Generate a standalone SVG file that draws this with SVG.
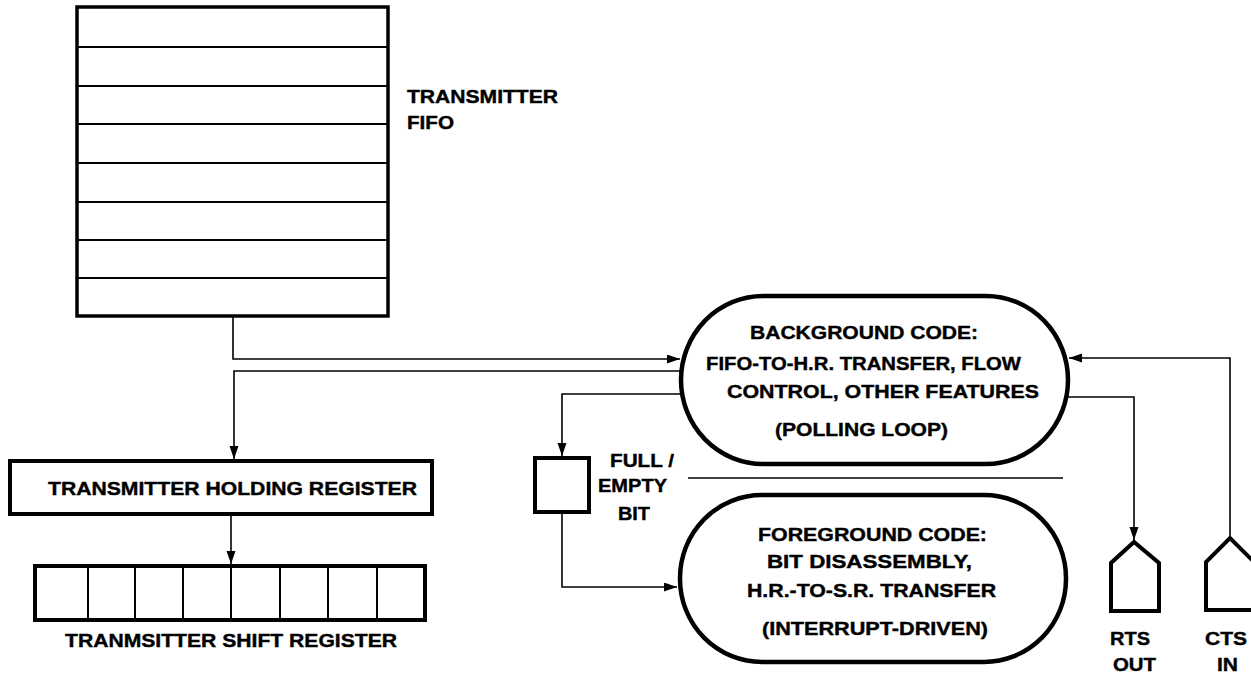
<svg xmlns="http://www.w3.org/2000/svg" width="1251" height="674" viewBox="0 0 1251 674">
<style>
text{font-family:"Liberation Sans",Arial,sans-serif;font-weight:bold;font-size:19px;fill:#000;stroke:#000;stroke-width:0.4}
.box{fill:#fff;stroke:#000;stroke-width:4}
.thin{fill:none;stroke:#000;stroke-width:2}
.conn{fill:none;stroke:#000;stroke-width:1.6}
</style>
<defs>
<marker id="arr" markerUnits="userSpaceOnUse" markerWidth="14" markerHeight="10" refX="13" refY="4.5" orient="auto">
<path d="M0,0 L13,4.5 L0,9 z" fill="#000"/>
</marker>
</defs>
<rect width="1251" height="674" fill="#fff"/>
<g id="fifo">
<rect x="77" y="7" width="311" height="309" fill="#fff" stroke="#000" stroke-width="3.5"/>
<path class="thin" d="M77 47H388M77 86H388M77 124H388M77 163H388M77 202H388M77 240H388M77 278H388"/>
<text x="407" y="103" textLength="151" lengthAdjust="spacingAndGlyphs">TRANSMITTER</text>
<text x="407" y="129" textLength="47" lengthAdjust="spacingAndGlyphs">FIFO</text>
</g>
<g id="holding">
<rect class="box" x="10" y="461" width="422" height="53"/>
<text x="48" y="495" textLength="369" lengthAdjust="spacingAndGlyphs">TRANSMITTER HOLDING REGISTER</text>
</g>
<g id="shift">
<rect class="box" x="35" y="566" width="390" height="54"/>
<path class="thin" d="M88 566V620M135 566V620M183 566V620M231 566V620M280 566V620M328 566V620M377 566V620"/>
<text x="65" y="647" textLength="332" lengthAdjust="spacingAndGlyphs">TRANMSITTER SHIFT REGISTER</text>
</g>
<g id="flag">
<rect class="box" x="535" y="458" width="54" height="54"/>
<text x="610" y="467" textLength="64" lengthAdjust="spacingAndGlyphs">FULL /</text>
<text x="598" y="492" textLength="69" lengthAdjust="spacingAndGlyphs">EMPTY</text>
<text x="618" y="520" textLength="32" lengthAdjust="spacingAndGlyphs">BIT</text>
</g>
<g id="background">
<rect x="681" y="296" width="387" height="168" rx="82" ry="84" fill="#fff" stroke="#000" stroke-width="4.5"/>
<text x="750" y="339" textLength="228" lengthAdjust="spacingAndGlyphs">BACKGROUND CODE:</text>
<text x="706" y="370" textLength="315" lengthAdjust="spacingAndGlyphs">FIFO-TO-H.R. TRANSFER, FLOW</text>
<text x="727" y="398" textLength="312" lengthAdjust="spacingAndGlyphs">CONTROL, OTHER FEATURES</text>
<text x="775" y="436" textLength="173" lengthAdjust="spacingAndGlyphs">(POLLING LOOP)</text>
</g>
<g id="separator">
<path class="conn" d="M688 478H1063"/>
</g>
<g id="foreground">
<rect x="680" y="495" width="386" height="167" rx="82" ry="83" fill="#fff" stroke="#000" stroke-width="4.5"/>
<text x="758" y="541" textLength="229" lengthAdjust="spacingAndGlyphs">FOREGROUND CODE:</text>
<text x="767" y="568" textLength="205" lengthAdjust="spacingAndGlyphs">BIT DISASSEMBLY,</text>
<text x="747" y="597" textLength="249" lengthAdjust="spacingAndGlyphs">H.R.-TO-S.R. TRANSFER</text>
<text x="762" y="635" textLength="226" lengthAdjust="spacingAndGlyphs">(INTERRUPT-DRIVEN)</text>
</g>
<g id="rts">
<path d="M1111 611V563L1134 542L1159 563V611Z" fill="#fff" stroke="#000" stroke-width="4"/>
<text x="1110" y="645" textLength="40" lengthAdjust="spacingAndGlyphs">RTS</text>
<text x="1113" y="671" textLength="43" lengthAdjust="spacingAndGlyphs">OUT</text>
</g>
<g id="cts">
<path d="M1206 610V562L1230 538L1254 562V610Z" fill="#fff" stroke="#000" stroke-width="4"/>
<text x="1205" y="645" textLength="42" lengthAdjust="spacingAndGlyphs">CTS</text>
<text x="1217" y="671" textLength="21" lengthAdjust="spacingAndGlyphs">IN</text>
</g>
<g id="connectors">
<path class="conn" d="M233 317V359H680" marker-end="url(#arr)"/>
<path class="conn" d="M680 371H234V459" marker-end="url(#arr)"/>
<path class="conn" d="M680 394H562V456" marker-end="url(#arr)"/>
<path class="conn" d="M562 514V587H677" marker-end="url(#arr)"/>
<path class="conn" d="M231 516V564" marker-end="url(#arr)"/>
<path class="conn" d="M1068 397H1134V540" marker-end="url(#arr)"/>
<path class="conn" d="M1230 536V358H1069" marker-end="url(#arr)"/>
</g>
</svg>
